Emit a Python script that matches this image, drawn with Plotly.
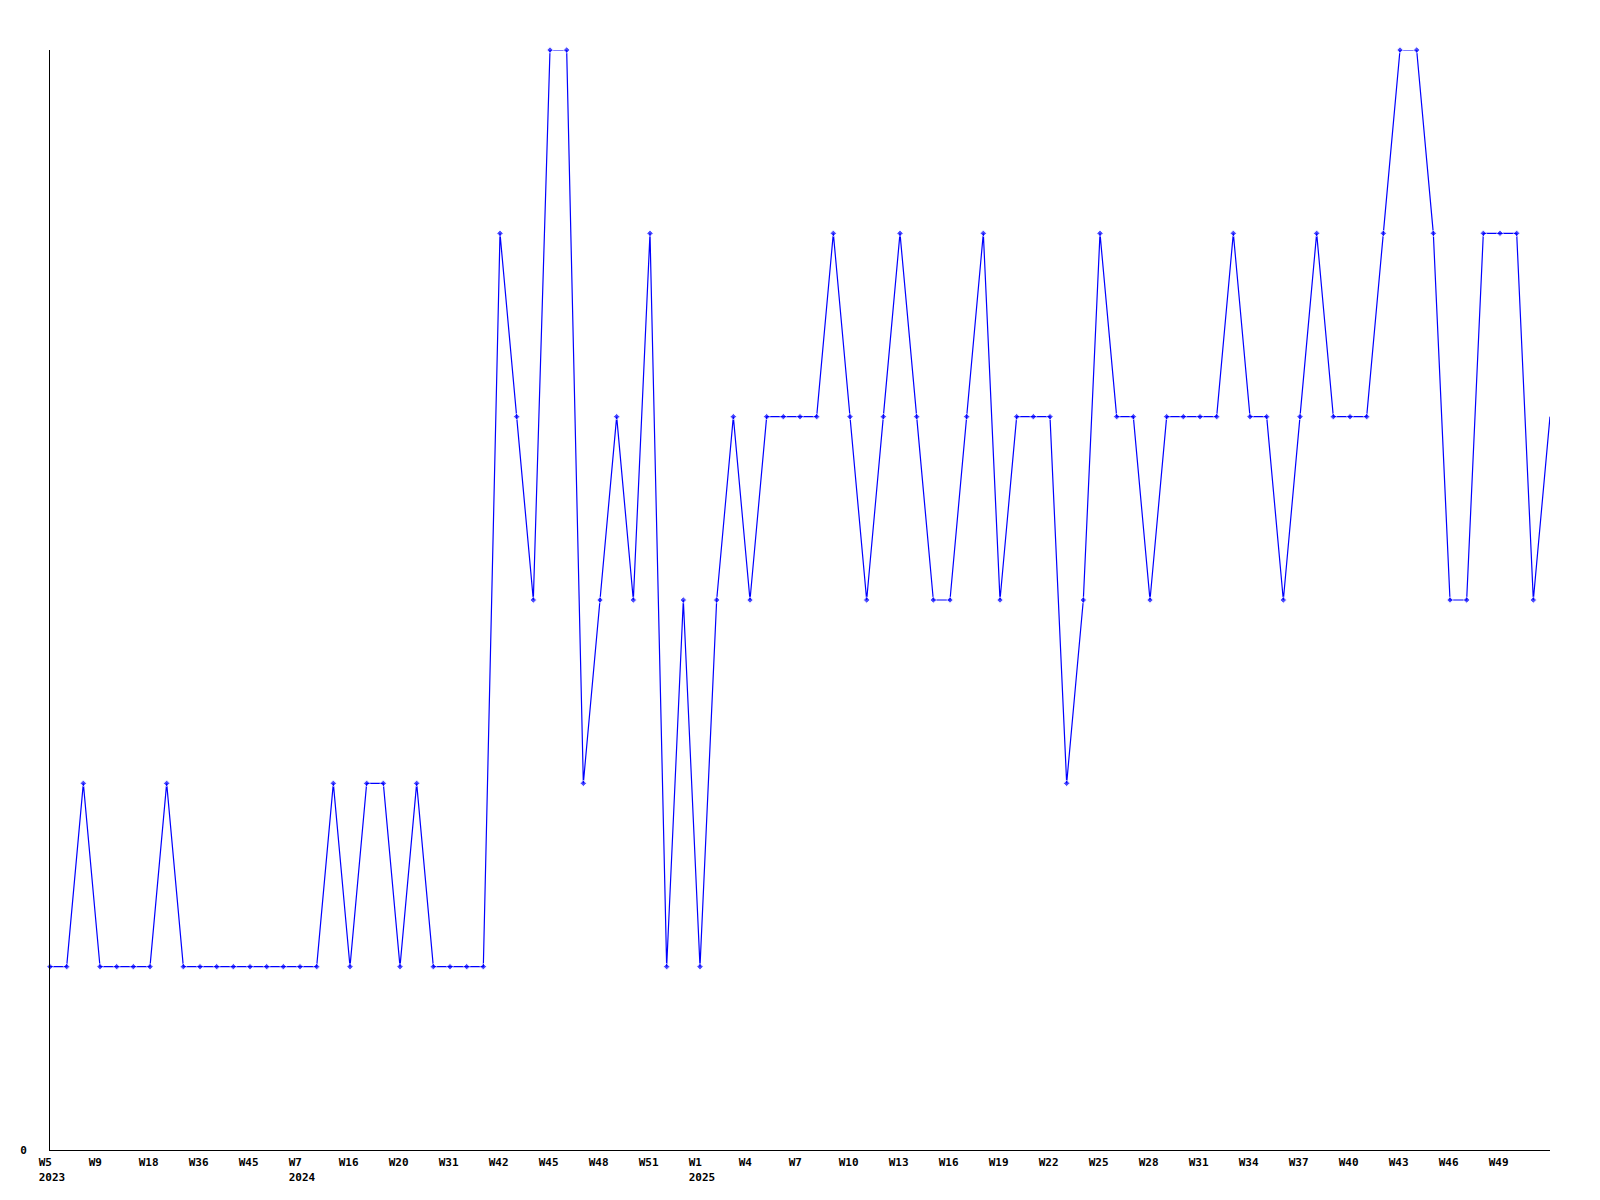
import plotly.graph_objects as go

# weekly counts, one point per week that has data (2023 W5 ... 2025 W52)
counts = [
    1, 1, 2, 1, 1, 1, 1, 2, 1, 1, 1, 1, 1, 1, 1, 1, 1, 2, 1, 2, 2, 1, 2, 1, 1, 1, 1,
    5, 4, 3, 6, 6, 2, 3, 4, 3, 5, 1, 3, 1, 3, 4, 3, 4, 4, 4, 4, 5, 4, 3, 4, 5, 4, 3,
    3, 4, 5, 3, 4, 4, 4, 2, 3, 5, 4, 4, 3, 4, 4, 4, 4, 5, 4, 4, 3, 4, 5, 4, 4, 4, 5,
    6, 6, 5, 3, 3, 5, 5, 5, 3, 4,
]

# every third point is labelled
tick_weeks = ['W5', 'W9', 'W18', 'W36', 'W45', 'W7', 'W16', 'W20', 'W31', 'W42',
              'W45', 'W48', 'W51', 'W1', 'W4', 'W7', 'W10', 'W13', 'W16', 'W19',
              'W22', 'W25', 'W28', 'W31', 'W34', 'W37', 'W40', 'W43', 'W46', 'W49']
tick_years = {0: '2023', 5: '2024', 13: '2025'}

x = list(range(len(counts)))
tickvals = x[::3][:len(tick_weeks)]

NB = '\u00a0'
ticktext = []
for i, w in enumerate(tick_weeks):
    # pad to 4 chars so labels line up on their left edge (mono font)
    lbl = w + NB * (4 - len(w))
    if i in tick_years:
        lbl += '<br>' + tick_years[i]
    ticktext.append(lbl)

sizes = [5] * (len(counts) - 1) + [0]

fig = go.Figure()
fig.add_trace(go.Scatter(
    x=x, y=counts, mode='lines+markers',
    line=dict(color='#0000ff', width=1.2),
    marker=dict(symbol='diamond', size=sizes, color='#0000ff'),
    cliponaxis=False,
    showlegend=False,
))

font = dict(family='DejaVu Sans Mono', size=11, color='black', weight='bold')

# page body adds an 8px offset, so margins are trimmed to match
fig.update_layout(
    width=1584, height=1184,
    margin=dict(l=42, r=42, t=42, b=42),
    plot_bgcolor='white', paper_bgcolor='white',
    font=font,
)
fig.update_xaxes(
    range=[0, len(counts) - 1],
    tickvals=tickvals, ticktext=ticktext,
    showgrid=False, zeroline=False,
    showline=True, linecolor='black', linewidth=1,
    ticks='', tickfont=font, tickangle=0,
    ticklabelshift=2, ticklabelstandoff=2,
    automargin=False,
)
fig.update_yaxes(
    range=[0, 6],
    tickvals=[0], ticktext=['0'],
    showgrid=False, zeroline=False,
    showline=True, linecolor='black', linewidth=1,
    ticks='', tickfont=font,
    ticklabelstandoff=20,
    automargin=False,
)

fig.write_html("out.html")
